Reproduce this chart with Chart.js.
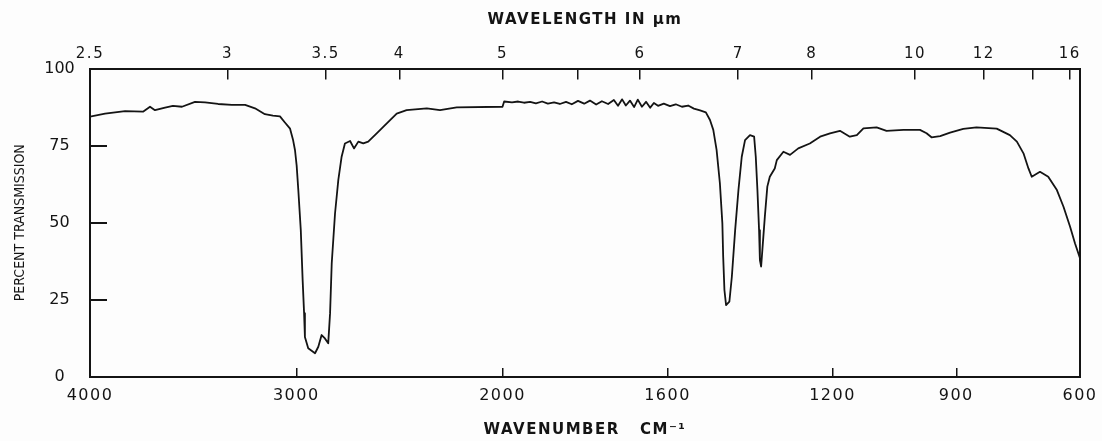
<!DOCTYPE html>
<html>
<head>
<meta charset="utf-8">
<title>IR spectrum</title>
<script src="https://cdn.jsdelivr.net/npm/chart.js@4.4.1/dist/chart.umd.min.js"></script>
<style>
  html, body { margin: 0; padding: 0; background: #fdfdfd; }
  canvas { display: block; background: #fdfdfd; }
</style>
</head>
<body>
<canvas id="spectrum" width="1102" height="441"></canvas>
<script>
// spectrum (wavenumber in cm-1, % transmission)
const wavenumbers = [
  4000, 3927, 3830, 3743, 3709, 3685, 3636, 3598, 3554, 3491, 3442, 3379, 3312, 3248,
  3200, 3152, 3113, 3079, 3055, 3030, 3016, 3006, 2998, 2990, 2978, 2969, 2962, 2958,
  2942, 2909, 2893, 2877, 2861, 2845, 2836, 2828, 2812, 2796, 2780, 2764, 2739, 2720,
  2699, 2675, 2651, 2610, 2561, 2513, 2465, 2367, 2303, 2222, 2000,
  1996, 1977, 1962, 1948, 1933, 1919, 1904, 1890, 1875, 1861, 1846, 1832, 1817, 1802,
  1788, 1773, 1759, 1744, 1730, 1720, 1710, 1701, 1691, 1681, 1672, 1662, 1652, 1642,
  1633, 1623, 1609, 1594, 1580, 1565, 1550, 1536, 1521, 1507, 1497, 1489, 1481, 1473,
  1467, 1465, 1462, 1458, 1450, 1444, 1436, 1428, 1420, 1412, 1400, 1390, 1386, 1382,
  1378, 1376, 1373, 1370, 1364, 1358, 1352, 1340, 1335, 1319, 1303, 1283, 1255, 1230,
  1206, 1182, 1158, 1141, 1125, 1093, 1069, 1028, 988, 972, 960, 939, 915, 883, 851,
  802, 770, 753, 737, 725, 717, 697, 677, 656, 640, 624, 612, 600
];
const transmission = [
  84.4, 85.4, 86.2, 86.0, 87.6, 86.5, 87.3, 87.9, 87.6, 89.2, 89.0, 88.5, 88.2, 88.2,
  87.1, 85.2, 84.7, 84.5, 82.5, 80.5, 77.0, 73.5, 68.5, 60.6, 47.6, 31.4, 20.7, 13.0,
  9.3, 7.7, 9.8, 13.6, 12.5, 10.9, 20.7, 36.8, 53.0, 63.9, 71.4, 75.7, 76.5, 74.1,
  76.3, 75.7, 76.3, 79.0, 82.2, 85.4, 86.5, 87.1, 86.5, 87.4, 87.6,
  89.3, 89.0, 89.3, 88.9, 89.2, 88.7, 89.3, 88.6, 89.0, 88.5, 89.2, 88.4, 89.5, 88.6,
  89.6, 88.3, 89.4, 88.5, 89.8, 87.9, 90.0, 88.0, 89.6, 87.5, 89.9, 87.6, 89.2, 87.3,
  88.8, 87.9, 88.6, 87.8, 88.4, 87.6, 88.0, 87.0, 86.4, 85.8, 83.3, 80.1, 73.6, 62.8,
  49.8, 39.0, 28.2, 23.3, 24.4, 32.5, 47.6, 60.6, 71.4, 76.8, 78.4, 77.9, 71.4, 60.6,
  47.6, 37.9, 35.8, 41.2, 52.0, 61.7, 64.9, 67.6, 70.3, 73.0, 72.0, 74.1, 75.7, 77.9,
  79.0, 79.8, 77.9, 78.4, 80.6, 80.9, 79.8, 80.1, 80.1, 79.0, 77.7, 78.1, 79.2, 80.4, 80.9,
  80.5, 78.4, 76.3, 72.5, 67.6, 64.9, 66.5, 64.9, 60.6, 55.2, 48.7, 43.3, 38.5
];

const wavenumberTicks = [4000, 3000, 2000, 1600, 1200, 900, 600];
const wavelengthTicks = [2.5, 3, 3.5, 4, 5, 5.5, 6, 7, 8, 10, 12, 14, 16];
const wavelengthLabels = ['2.5', '3', '3.5', '4', '5', '', '6', '7', '8', '10', '12', '', '16'];

const INK = '#141414';

// chart paper changes scale at 2000 cm-1: below it every cm-1 takes twice the room
class WavenumberScale extends Chart.LinearScale {
  static id = 'wavenumber';
  static defaults = {};
  getPixelForValue(value) {
    const u = value >= 2000 ? 4000 - value : 2000 + (2000 - value) * 2;
    return this.getPixelForDecimal(u / 4800);
  }
  getValueForPixel(pixel) {
    const u = this.getDecimalForPixel(pixel) * 4800;
    return u <= 2000 ? 4000 - u : 2000 - (u - 2000) / 2;
  }
}
Chart.register(WavenumberScale);

// wide lettering like the printed form; the y scale (z 1) is drawn after the
// datasets with no extra spacing so its narrow title stays short
const spacing = {
  id: 'spacing',
  beforeLayout(chart) { chart.ctx.letterSpacing = '1.5px'; },
  beforeDraw(chart) { chart.ctx.letterSpacing = '1.5px'; },
  afterDatasetsDraw(chart) { chart.ctx.letterSpacing = '0px'; }
};

Chart.defaults.font.family = "'DejaVu Sans', sans-serif";
Chart.defaults.color = INK;

const points = wavenumbers.map((wn, i) => ({ x: wn, y: transmission[i] }));

const noSidePadding = s => { s.paddingLeft = 0; s.paddingRight = 0; };

new Chart(document.getElementById('spectrum'), {
  type: 'line',
  data: {
    datasets: [{
      data: points,
      borderColor: INK,
      borderWidth: 1.8,
      borderJoinStyle: 'round',
      borderCapStyle: 'round',
      pointRadius: 0,
      tension: 0,
      fill: false
    }]
  },
  options: {
    responsive: false,
    animation: false,
    layout: { padding: { left: 0, right: 22, top: 0, bottom: 0 } },
    plugins: { legend: { display: false }, tooltip: { enabled: false } },
    scales: {
      x: {
        type: 'wavenumber',
        position: 'bottom',
        min: 600,
        max: 4000,
        afterBuildTicks: s => { s.ticks = wavenumberTicks.map(v => ({ value: v })); },
        afterFit: s => { s.height = 64; noSidePadding(s); },
        ticks: { autoSkip: false, maxRotation: 0, padding: 18, font: { size: 16 },
                 callback: v => String(v) },
        grid: { drawOnChartArea: false, drawTicks: true, tickLength: -9, color: INK, lineWidth: 1.5 },
        border: { display: true, color: INK, width: 2 },
        title: { display: true, text: 'WAVENUMBER   CM\u207B\u00B9',
                 font: { size: 15, weight: 'bold' }, padding: { top: 0, bottom: 2 } }
      },
      xTop: {
        type: 'wavenumber',
        position: 'top',
        min: 600,
        max: 4000,
        afterBuildTicks: s => { s.ticks = wavelengthTicks.map(l => ({ value: 10000 / l })); },
        afterFit: s => { s.height = 68.5; noSidePadding(s); },
        ticks: { autoSkip: false, maxRotation: 0, padding: 16, font: { size: 15 },
                 callback: (v, i) => wavelengthLabels[i] },
        grid: { drawOnChartArea: false, drawTicks: true, tickLength: -11, color: INK, lineWidth: 1.5 },
        border: { display: true, color: INK, width: 2 },
        title: { display: true, text: 'WAVELENGTH IN \u00B5m',
                 font: { size: 15, weight: 'bold' }, padding: { top: 11, bottom: 0 } }
      },
      y: {
        min: 0,
        max: 100,
        afterFit: s => { s.width = 90; },
        ticks: { stepSize: 25, padding: 30, crossAlign: 'center', font: { size: 16 }, z: 1 },
        grid: { drawOnChartArea: false, drawTicks: true, tickLength: -17, color: INK, lineWidth: 2, z: 1 },
        border: { display: true, color: INK, width: 2, z: 1 },
        title: { display: true, text: 'PERCENT TRANSMISSION',
                 font: { family: "'DejaVu Sans Condensed', 'Liberation Sans Narrow', 'Liberation Sans', sans-serif", size: 14 },
                 padding: { top: 12, bottom: 0 } }
      },
      yRight: {
        position: 'right',
        min: 0,
        max: 100,
        afterFit: s => { s.width = 0; },
        ticks: { display: false },
        grid: { display: false },
        border: { display: true, color: INK, width: 2 }
      }
    }
  },
  plugins: [spacing]
});
</script>
</body>
</html>
